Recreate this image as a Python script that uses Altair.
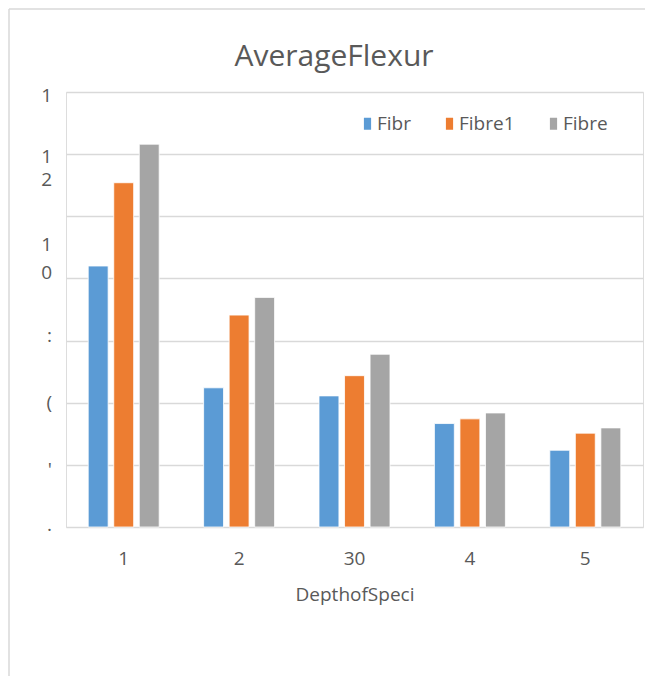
import altair as alt
import pandas as pd

categories = ["1", "2", "30", "4", "5"]
series = ["Fibr", "Fibre1", "Fibre"]
fibr = [8.40, 4.48, 4.22, 3.33, 2.47]
fibre1 = [11.08, 6.82, 4.87, 3.48, 3.02]
fibre = [12.32, 7.39, 5.56, 3.67, 3.19]
colors = ["#5B9BD5", "#ED7D31", "#A5A5A5"]
chart_title = ["AverageFlexur"]

# garbled (clipped) y-axis label fragments, as they appear in the original
ylab_text = ["1", "1", "2", "1", "0", ":", "(", "'", "."]
ylab_pos = [13.69, 11.73, 10.96, 8.87, 7.97, 5.95, 3.80, 1.65, -0.12]

rows = []
for s, vals in zip(series, [fibr, fibre1, fibre]):
    for c, v in zip(categories, vals):
        rows.append({"cat": c, "series": s, "value": v})
df = pd.DataFrame(rows)
ydf = pd.DataFrame({"t": ylab_text, "v": ylab_pos})
tdf = pd.DataFrame({"t": chart_title})

FONT = "Open Sans"
TXT = "#595959"
GRID = "#D9D9D9"

bars = alt.Chart(df).mark_bar(stroke="white", strokeWidth=0.8).encode(
    x=alt.X("cat:N", sort=categories,
            scale=alt.Scale(paddingInner=0.385, paddingOuter=0.1925),
            axis=alt.Axis(title="DepthofSpeci", labelAngle=0, domain=False, ticks=False,
                          tickSize=0, labelPadding=22, labelFontSize=19, labelColor=TXT,
                          labelFont=FONT, titleFont=FONT, titleFontSize=19,
                          titleFontWeight="normal", titleColor=TXT, titlePadding=17)),
    xOffset=alt.XOffset("series:N", sort=series,
                        scale=alt.Scale(paddingInner=0.22, paddingOuter=0)),
    y=alt.Y("value:Q", scale=alt.Scale(domain=[0, 14], nice=False),
            axis=alt.Axis(title=None, values=list(range(0, 15, 2)), labels=False,
                          domain=False, ticks=False, grid=True, gridColor=GRID,
                          gridWidth=1.3)),
    color=alt.Color("series:N", sort=series,
                    scale=alt.Scale(domain=series, range=colors),
                    legend=alt.Legend(title=None, orient="none", direction="horizontal",
                                      legendX=292, legendY=22,
                                      symbolType="M-0.6,-1H0.6V1H-0.6Z",
                                      symbolSize=144, symbolStrokeWidth=0,
                                      labelFont=FONT, labelFontSize=19, labelColor=TXT,
                                      labelOffset=0, columnPadding=29)),
)

ylabels = alt.Chart(ydf).mark_text(align="right", baseline="alphabetic",
                                   font=FONT, fontSize=19, color=TXT).encode(
    x=alt.value(-14),
    y=alt.Y("v:Q", scale=alt.Scale(domain=[0, 14], nice=False)),
    text="t:N",
)

title = alt.Chart(tdf).mark_text(align="center", baseline="alphabetic", font=FONT,
                                 fontSize=30, color=TXT).encode(
    x=alt.value(268), y=alt.value(-26), text="t:N")

one = alt.Data(values=[{"k": 1}])
border_top = alt.Chart(one).mark_rule(color=GRID, strokeWidth=1.5).encode(
    x=alt.value(-57), x2=alt.value(580), y=alt.value(-83))
border_left = alt.Chart(one).mark_rule(color=GRID, strokeWidth=1.5).encode(
    x=alt.value(-57), y=alt.value(-83), y2=alt.value(590))

chart = alt.layer(border_top, border_left, bars, ylabels, title).properties(
    width=577, height=435,
    autosize=alt.AutoSizeParams(type="none"),
    padding={"left": 58, "top": 84, "right": 2, "bottom": 149},
).configure_view(stroke=None).configure(background="white")

chart.save("out.html", embed_options={"renderer": "svg", "actions": False})
